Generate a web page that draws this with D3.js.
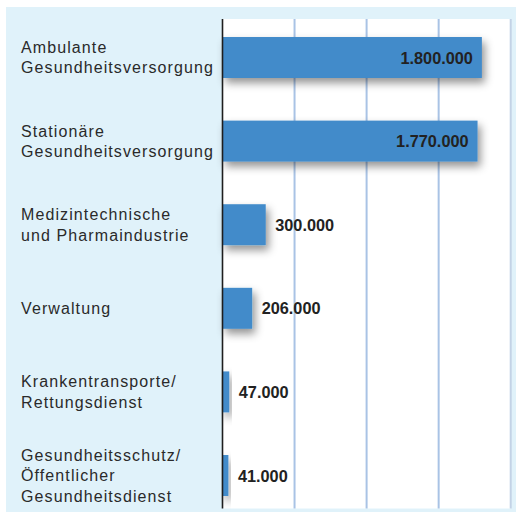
<!DOCTYPE html>
<html>
<head>
<meta charset="utf-8">
<script src="https://cdn.jsdelivr.net/npm/d3@7"></script>
<style>
  html, body { margin: 0; padding: 0; background: #ffffff; }
  svg { display: block; }
</style>
</head>
<body>
<svg id="chart" width="518" height="513"></svg>
<script>
// ---- data ----
const categories = [
  ["Ambulante", "Gesundheitsversorgung"],
  ["Stationäre", "Gesundheitsversorgung"],
  ["Medizintechnische", "und Pharmaindustrie"],
  ["Verwaltung"],
  ["Krankentransporte/", "Rettungsdienst"],
  ["Gesundheitsschutz/", "Öffentlicher", "Gesundheitsdienst"]
];
const values = [1800000, 1770000, 300000, 206000, 47000, 41000];
const gridTicks = [500000, 1000000, 1500000, 2000000];

// ---- layout ----
const svg = d3.select("#chart");
const W = 518, H = 513;
const plot = { left: 222.5, right: 510.7, top: 19, bottom: 508.5 };

const de = d3.formatLocale({ decimal: ",", thousands: ".", grouping: [3], currency: ["", " €"] });
const fmt = de.format(",");

const x = d3.scaleLinear().domain([0, 2000000]).range([plot.left, plot.right]);
const y = d3.scaleBand()
  .domain(d3.range(categories.length))
  .range([15.7, 517.3])
  .paddingInner(0.51)
  .paddingOuter(0.255);

// shadow filter
const defs = svg.append("defs");
const f = defs.append("filter").attr("id", "shadow")
  .attr("x", "-20%").attr("y", "-30%").attr("width", "160%").attr("height", "180%");
f.append("feDropShadow").attr("dx", 3).attr("dy", 5).attr("stdDeviation", 4)
  .attr("flood-color", "#000").attr("flood-opacity", 0.42);

// light blue panel
svg.append("rect").attr("x", 6).attr("y", 7).attr("width", 510).attr("height", 505)
  .attr("fill", "#e0f2fa");

// white plot area
svg.append("rect").attr("x", plot.left).attr("y", plot.top)
  .attr("width", plot.right - plot.left).attr("height", plot.bottom - plot.top)
  .attr("fill", "#ffffff");

// grid lines
svg.append("g").selectAll("line").data(gridTicks).join("line")
  .attr("x1", d => x(d)).attr("x2", d => x(d))
  .attr("y1", plot.top).attr("y2", plot.bottom)
  .attr("stroke", d => d === 2000000 ? "#c3d3e6" : "#a9c3e5")
  .attr("stroke-width", 2);

// bars
svg.append("g").selectAll("rect").data(values).join("rect")
  .attr("x", x(0))
  .attr("y", (d, i) => y(i))
  .attr("width", d => x(d) - x(0))
  .attr("height", y.bandwidth())
  .attr("fill", "#428bca")
  .attr("filter", "url(#shadow)");

// axis line
svg.append("line")
  .attr("x1", plot.left).attr("x2", plot.left)
  .attr("y1", plot.top).attr("y2", plot.bottom)
  .attr("stroke", "#1e1e1e").attr("stroke-width", 1.6);

// value labels
svg.append("g").selectAll("text").data(values).join("text")
  .attr("x", d => d > 1000000 ? x(d) - 9 : x(d) + 9.5)
  .attr("y", (d, i) => y(i) + y.bandwidth() / 2 + 6)
  .attr("text-anchor", d => d > 1000000 ? "end" : "start")
  .attr("font-family", "'Liberation Sans', Arial, sans-serif")
  .attr("font-weight", "bold")
  .attr("font-size", "16.3px")
  .attr("fill", "#222")
  .text(d => fmt(d));

// category labels
const lineH = 20.5;
const lab = svg.append("g").selectAll("text").data(categories).join("text")
  .attr("font-family", "'Liberation Sans', Arial, sans-serif")
  .attr("font-size", "16px")
  .attr("letter-spacing", "1.1px")
  .attr("fill", "#2a2a2a")
  .attr("x", 21);
lab.each(function(lines, i) {
  const cy = y(i) + y.bandwidth() / 2;
  const first = cy - (lines.length - 1) * lineH / 2 + 5.7;
  d3.select(this).selectAll("tspan").data(lines).join("tspan")
    .attr("x", 21)
    .attr("y", (l, j) => first + j * lineH)
    .text(l => l);
});
</script>
</body>
</html>
